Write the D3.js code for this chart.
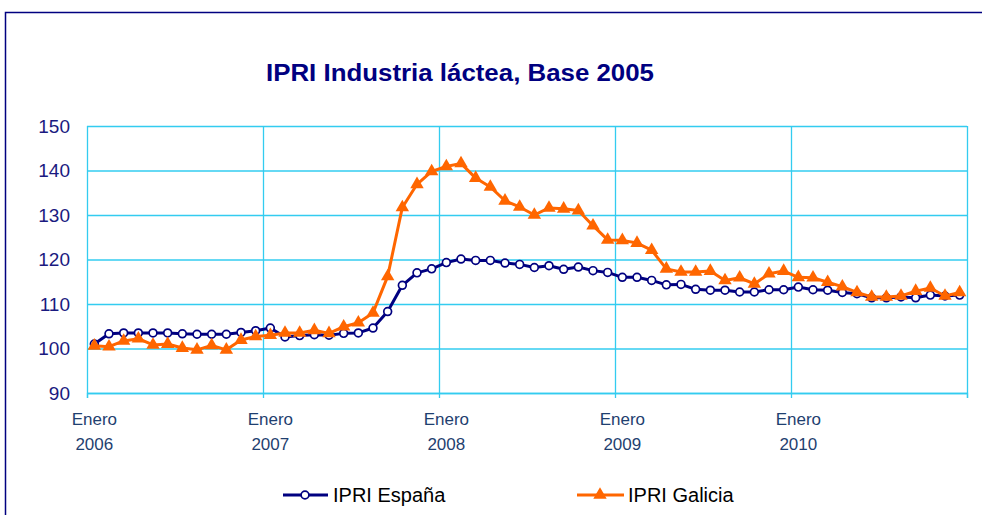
<!DOCTYPE html>
<html>
<head>
<meta charset="utf-8">
<script src="https://cdn.jsdelivr.net/npm/d3@7"></script>
<style>
  body { margin: 0; background: #fff; }
  text { font-family: Arial, "Liberation Sans", sans-serif; }
</style>
</head>
<body>
<div id="chart"></div>
<script>
// years shown on the x axis, 12 months each
var years = ["2006", "2007", "2008", "2009", "2010"];
var monthLabel = "Enero";

// IPRI España, monthly Jan 2006 - Dec 2010
var espana = [
  101.0, 103.3, 103.5, 103.5, 103.5, 103.5, 103.3, 103.2, 103.2, 103.2, 103.6, 104.0,
  104.6, 102.6, 102.9, 103.1, 103.0, 103.4, 103.5, 104.6, 108.3, 114.2, 117.0, 117.9,
  119.3, 120.1, 119.8, 119.8, 119.2, 118.9, 118.2, 118.6, 117.8, 118.3, 117.5, 117.1,
  116.0, 116.0, 115.3, 114.3, 114.4, 113.3, 113.1, 113.1, 112.7, 112.7, 113.2, 113.2,
  113.8, 113.2, 113.1, 112.6, 112.3, 111.4, 111.4, 111.6, 111.4, 112.0, 111.8, 112.0
];

// IPRI Galicia, monthly Jan 2006 - Dec 2010
var galicia = [
  100.6, 100.4, 101.7, 102.2, 100.8, 101.0, 100.1, 99.7, 100.7, 99.7, 101.9, 102.7,
  103.0, 103.5, 103.5, 104.1, 103.4, 104.9, 105.8, 108.0, 116.2, 131.7, 136.9, 139.8,
  140.9, 141.6, 138.3, 136.3, 133.2, 131.8, 130.0, 131.6, 131.4, 131.0, 127.6, 124.4,
  124.3, 123.7, 122.1, 117.9, 117.2, 117.2, 117.4, 115.3, 115.9, 114.5, 116.8, 117.4,
  116.0, 115.9, 114.9, 113.9, 112.6, 111.6, 111.6, 111.8, 112.9, 113.6, 111.8, 112.6
];

var yTicks = [90, 100, 110, 120, 130, 140, 150];
var seriesNames = ["IPRI España", "IPRI Galicia"];

var W = 982, H = 515;
var plotLeft = 87, plotRight = 967, plotTop = 126, plotBottom = 393;
var navy = "#000080", orange = "#ff6600", grid = "#33ccf0";

var svg = d3.select("#chart").append("svg")
    .attr("width", W)
    .attr("height", H);

// outer frame of the chart object
svg.append("rect")
    .attr("x", 5.5).attr("y", 12.5)
    .attr("width", 1000).attr("height", 600)
    .attr("fill", "#fff")
    .attr("stroke", navy)
    .attr("stroke-width", 1.5);

// title
svg.append("text")
    .attr("x", 460).attr("y", 81)
    .attr("text-anchor", "middle")
    .attr("textLength", 388)
    .attr("lengthAdjust", "spacingAndGlyphs")
    .style("font-size", "23px")
    .style("font-weight", "bold")
    .attr("fill", navy)
    .text("IPRI Industria láctea, Base 2005");

var months = d3.range(espana.length);
var x = d3.scaleBand().domain(months).range([plotLeft, plotRight]);
var xEdge = d3.scaleLinear().domain([0, months.length]).range([plotLeft, plotRight]);
var y = d3.scaleLinear().domain([90, 150]).range([plotBottom, plotTop]);

// horizontal grid + y labels
var yAxis = svg.append("g")
    .attr("transform", "translate(" + plotLeft + ",0)")
    .call(d3.axisLeft(y).tickValues(yTicks).tickSize(-(plotRight - plotLeft)).tickPadding(17));
yAxis.select(".domain").remove();
yAxis.selectAll(".tick line").attr("stroke", grid).attr("stroke-width", 1.3);
yAxis.selectAll(".tick text")
    .attr("fill", "#1a1a80")
    .style("font-size", "19px")
    .style("font-family", "Arial, 'Liberation Sans', sans-serif");

// vertical grid every 12 months, ticks poke out below
var xAxis = svg.append("g")
    .attr("transform", "translate(0," + plotBottom + ")")
    .call(d3.axisBottom(xEdge).tickValues(d3.range(0, months.length + 1, 12)).tickSize(5).tickFormat(""));
xAxis.select(".domain").attr("stroke", grid).attr("stroke-width", 1.3);
xAxis.selectAll(".tick line")
    .attr("y1", -(plotBottom - plotTop))
    .attr("y2", 5)
    .attr("stroke", grid)
    .attr("stroke-width", 1.3);

// x labels: "Enero" + year under the January of each year
var xl = svg.append("g").selectAll("text")
    .data(years)
  .enter().append("text")
    .attr("text-anchor", "middle")
    .attr("fill", "#1f3f70")
    .style("font-size", "17px")
    .attr("x", function(d, i) { return x(i * 12) + x.bandwidth() / 2; })
    .attr("y", 425);
xl.append("tspan").text(monthLabel);
xl.append("tspan")
    .attr("x", function(d, i) { return x(i * 12) + x.bandwidth() / 2; })
    .attr("dy", 25)
    .text(function(d) { return d; });

var line = d3.line()
    .x(function(d, i) { return x(i) + x.bandwidth() / 2; })
    .y(function(d) { return y(d); });

var tri = d3.symbol().type(d3.symbolTriangle).size(78);

// España
svg.append("path")
    .datum(espana)
    .attr("fill", "none")
    .attr("stroke", navy)
    .attr("stroke-width", 3)
    .attr("stroke-linejoin", "round")
    .attr("d", line);
svg.append("g").selectAll("circle")
    .data(espana)
  .enter().append("circle")
    .attr("cx", function(d, i) { return x(i) + x.bandwidth() / 2; })
    .attr("cy", function(d) { return y(d); })
    .attr("r", 3.9)
    .attr("fill", "#fff")
    .attr("stroke", navy)
    .attr("stroke-width", 1.7);

// Galicia
svg.append("path")
    .datum(galicia)
    .attr("fill", "none")
    .attr("stroke", orange)
    .attr("stroke-width", 3)
    .attr("stroke-linejoin", "round")
    .attr("d", line);
svg.append("g").selectAll("path")
    .data(galicia)
  .enter().append("path")
    .attr("d", tri)
    .attr("transform", function(d, i) {
      return "translate(" + (x(i) + x.bandwidth() / 2) + "," + y(d) + ")"; })
    .attr("fill", orange);

// legend
var legend = svg.append("g");
legend.append("line")
    .attr("x1", 283).attr("x2", 328).attr("y1", 495).attr("y2", 495)
    .attr("stroke", navy).attr("stroke-width", 3);
legend.append("circle")
    .attr("cx", 305).attr("cy", 495).attr("r", 3.9)
    .attr("fill", "#fff").attr("stroke", navy).attr("stroke-width", 1.7);
legend.append("text")
    .attr("x", 333).attr("y", 502)
    .style("font-size", "20px")
    .attr("fill", "#000")
    .text(seriesNames[0]);

legend.append("line")
    .attr("x1", 577).attr("x2", 624).attr("y1", 495).attr("y2", 495)
    .attr("stroke", orange).attr("stroke-width", 3);
legend.append("path")
    .attr("d", tri)
    .attr("transform", "translate(600,495)")
    .attr("fill", orange);
legend.append("text")
    .attr("x", 628).attr("y", 502)
    .style("font-size", "20px")
    .attr("fill", "#000")
    .text(seriesNames[1]);
</script>
</body>
</html>
